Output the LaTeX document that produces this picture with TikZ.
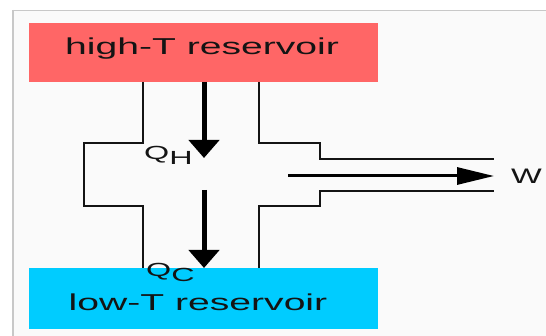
\documentclass[tikz,border=0pt]{standalone}
\usepackage{fontspec}
\setmainfont{Liberation Sans}
\usetikzlibrary{arrows.meta}
\definecolor{hotred}{HTML}{FF6666}
\definecolor{coldblue}{HTML}{00CCFF}
\definecolor{bgpaper}{HTML}{FAFAFA}
\definecolor{framegray}{HTML}{C8C8C8}
\definecolor{inkdark}{HTML}{141414}
\tikzset{
  reservoir/.style={draw=none, minimum width=349pt, anchor=north west, inner sep=0pt},
  wall/.style={draw=inkdark, line width=2pt},
  heatarrow/.style={draw=black, line width=5pt, -{Triangle[width=30pt,length=18pt]}},
  workarrow/.style={draw=black, line width=3pt, -{Triangle[width=17pt,length=37pt]}},
  lbl/.style={inner sep=0pt, text=inkdark},
}
\newcommand{\wide}[2][1.7]{\scalebox{#1}[1]{#2}}
\begin{document}
\begin{tikzpicture}[x=1pt,y=-1pt]
\useasboundingbox (0,0) rectangle (546,336);
\fill[white] (0,0) rectangle (546,336);
\fill[bgpaper] (13,10) rectangle (546,336);
\draw[framegray, line width=0.6pt] (13,10.5) -- (546,10.5);
\draw[framegray, line width=2pt] (13,10) -- (13,336);
% reservoirs
\node[reservoir, fill=hotred, minimum height=59pt] (hot) at (29,23) {};
\node[reservoir, fill=coldblue, minimum height=61pt] (cold) at (29,268) {};
\node[lbl, font=\fontsize{23}{23}\selectfont] (hotlbl) at (202,49) {\wide{high-T reservoir}};
\node[lbl, font=\fontsize{23}{23}\selectfont] (coldlbl) at (198,302) {\wide{low-T reservoir}};
% engine outline
\coordinate (lt) at (143,82);
\coordinate (rt) at (259,82);
\coordinate (lb) at (143,268);
\coordinate (rb) at (259,268);
\draw[wall] (lt) -- (143,143) -- (84,143) -- (84,206) -- (143,206) -- (lb);
\draw[wall] (rt) -- (259,143) -- (320,143) -- (320,159) -- (494,159);
\draw[wall] (rb) -- (259,206) -- (320,206) -- (320,191) -- (494,191);
% arrows
\coordinate (qhs) at (204,82);
\coordinate (qhe) at (204,158);
\coordinate (qcs) at (204,190);
\coordinate (qce) at (204,268);
\coordinate (ws) at (288,176);
\coordinate (we) at (494,176);
\draw[heatarrow] (qhs) -- (qhe);
\draw[heatarrow] (qcs) -- (qce);
\draw[workarrow] (ws) -- (we);
% labels
\node[lbl, font=\fontsize{19}{19}\selectfont, anchor=west] (qh) at (144,155) {\wide{Q\raisebox{-5pt}{H}}};
\node[lbl, font=\fontsize{19}{19}\selectfont, anchor=west] (qc) at (146,272) {\wide{Q\raisebox{-5pt}{C}}};
\node[lbl, font=\fontsize{21}{21}\selectfont, anchor=west] (w) at (511,176) {\wide[1.55]{W}};
\end{tikzpicture}
\end{document}
